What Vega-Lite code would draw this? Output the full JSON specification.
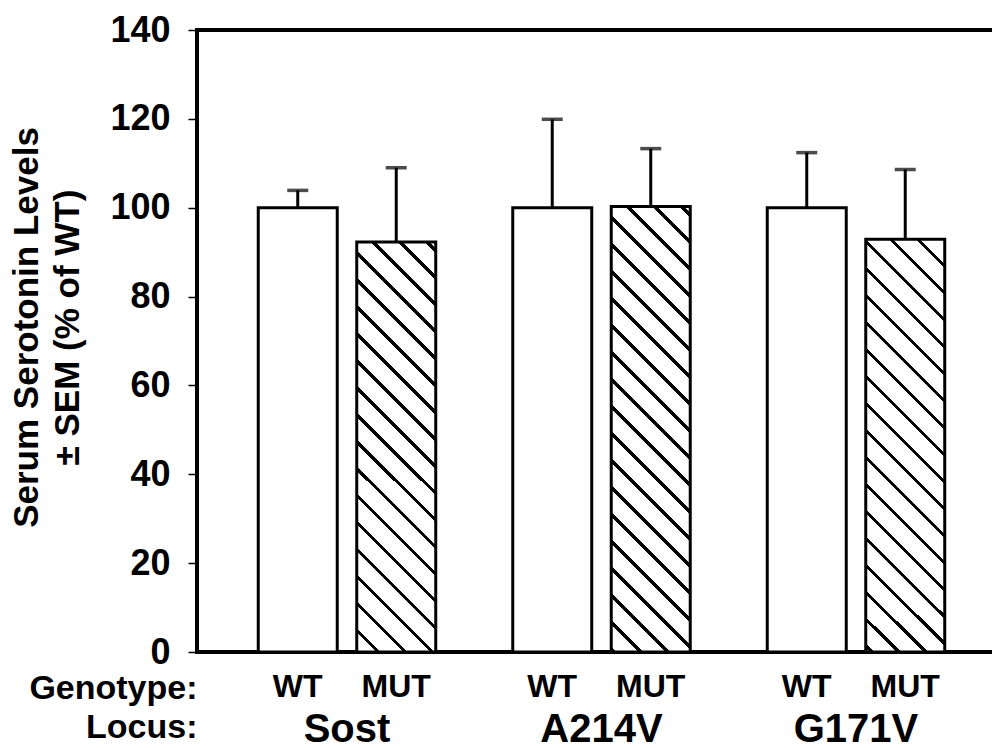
{
  "$schema": "https://vega.github.io/schema/vega-lite/v6.json",
  "width": 800,
  "height": 622,
  "autosize": {"type": "none"},
  "padding": {"left": 197, "top": 30, "right": 0, "bottom": 96},
  "background": "white",
  "config": {"font": "Liberation Sans", "view": {"stroke": "black", "strokeWidth": 4}},
  "data": {"values": [
    {"locus": "Sost", "genotype": "WT", "value": 100, "upper": 103.9},
    {"locus": "Sost", "genotype": "MUT", "value": 92.3, "upper": 109.0},
    {"locus": "A214V", "genotype": "WT", "value": 100, "upper": 119.9},
    {"locus": "A214V", "genotype": "MUT", "value": 100.3, "upper": 113.3},
    {"locus": "G171V", "genotype": "WT", "value": 100, "upper": 112.4},
    {"locus": "G171V", "genotype": "MUT", "value": 92.9, "upper": 108.6}
  ]},
  "encoding": {
    "x": {
      "field": "locus", "type": "nominal", "sort": ["Sost", "A214V", "G171V"],
      "scale": {"paddingInner": 0.3026, "paddingOuter": 0.223, "align": 0.5396},
      "axis": {
        "orient": "bottom", "title": ["Genotype:", "Locus:"], "labelAngle": 0,
        "labelFontSize": 40, "labelFontWeight": "bold", "labelColor": "black",
        "labelBaseline": "alphabetic", "labelPadding": 89, "ticks": false, "tickSize": 0,
        "domain": false, "grid": false,
        "titleFontSize": 34, "titleFontWeight": "bold", "titleColor": "black",
        "titleAlign": "right", "titleX": 0, "titleY": 46, "titleBaseline": "alphabetic", "titleLineHeight": 39
      }
    },
    "xOffset": {"field": "genotype", "type": "nominal", "sort": ["WT", "MUT"], "scale": {"paddingInner": 0.198, "paddingOuter": 0}},
    "y": {
      "field": "value", "type": "quantitative",
      "scale": {"domain": [0, 140], "nice": false},
      "axis": {
        "values": [0, 20, 40, 60, 80, 100, 120, 140],
        "title": ["Serum Serotonin Levels", "± SEM (% of WT)"],
        "titleFontSize": 35, "titleFontWeight": "bold", "titleColor": "black",
        "titleX": -171, "titleY": 297, "titleAngle": -90, "titleAlign": "center", "titleBaseline": "middle", "titleLineHeight": 41,
        "labelFontSize": 36, "labelFontWeight": "bold", "labelColor": "black", "labelPadding": 18,
        "labelFlush": false, "labelOverlap": false,
        "tickSize": 9, "tickWidth": 1.5, "tickColor": "black", "domain": false, "grid": false
      }
    }
  },
  "layer": [
    {
      "transform": [{"filter": "datum.genotype == 'WT'"}],
      "mark": {"type": "bar", "fill": "white", "stroke": "black", "strokeWidth": 3}
    },
    {
      "transform": [{"filter": "datum.genotype == 'MUT' && datum.locus == 'Sost'"}],
      "mark": {"type": "bar", "stroke": "black", "strokeWidth": 3,
        "fill": {"gradient": "linear", "x1": 0.1038, "y1": 1, "x2": 0.3479, "y2": -0.2685, "stops": [
          {"offset": 0, "color": "white"},
          {"offset": 0.0208, "color": "white"}, {"offset": 0.0208, "color": "black"}, {"offset": 0.0292, "color": "black"}, {"offset": 0.0292, "color": "white"},
          {"offset": 0.0708, "color": "white"}, {"offset": 0.0708, "color": "black"}, {"offset": 0.0792, "color": "black"}, {"offset": 0.0792, "color": "white"},
          {"offset": 0.1208, "color": "white"}, {"offset": 0.1208, "color": "black"}, {"offset": 0.1292, "color": "black"}, {"offset": 0.1292, "color": "white"},
          {"offset": 0.1708, "color": "white"}, {"offset": 0.1708, "color": "black"}, {"offset": 0.1792, "color": "black"}, {"offset": 0.1792, "color": "white"},
          {"offset": 0.2208, "color": "white"}, {"offset": 0.2208, "color": "black"}, {"offset": 0.2292, "color": "black"}, {"offset": 0.2292, "color": "white"},
          {"offset": 0.2708, "color": "white"}, {"offset": 0.2708, "color": "black"}, {"offset": 0.2792, "color": "black"}, {"offset": 0.2792, "color": "white"},
          {"offset": 0.3208, "color": "white"}, {"offset": 0.3208, "color": "black"}, {"offset": 0.3292, "color": "black"}, {"offset": 0.3292, "color": "white"},
          {"offset": 0.3708, "color": "white"}, {"offset": 0.3708, "color": "black"}, {"offset": 0.3792, "color": "black"}, {"offset": 0.3792, "color": "white"},
          {"offset": 0.4208, "color": "white"}, {"offset": 0.4208, "color": "black"}, {"offset": 0.4292, "color": "black"}, {"offset": 0.4292, "color": "white"},
          {"offset": 0.4708, "color": "white"}, {"offset": 0.4708, "color": "black"}, {"offset": 0.4792, "color": "black"}, {"offset": 0.4792, "color": "white"},
          {"offset": 0.5208, "color": "white"}, {"offset": 0.5208, "color": "black"}, {"offset": 0.5292, "color": "black"}, {"offset": 0.5292, "color": "white"},
          {"offset": 0.5708, "color": "white"}, {"offset": 0.5708, "color": "black"}, {"offset": 0.5792, "color": "black"}, {"offset": 0.5792, "color": "white"},
          {"offset": 0.6208, "color": "white"}, {"offset": 0.6208, "color": "black"}, {"offset": 0.6292, "color": "black"}, {"offset": 0.6292, "color": "white"},
          {"offset": 0.6708, "color": "white"}, {"offset": 0.6708, "color": "black"}, {"offset": 0.6792, "color": "black"}, {"offset": 0.6792, "color": "white"},
          {"offset": 0.7208, "color": "white"}, {"offset": 0.7208, "color": "black"}, {"offset": 0.7292, "color": "black"}, {"offset": 0.7292, "color": "white"},
          {"offset": 0.7708, "color": "white"}, {"offset": 0.7708, "color": "black"}, {"offset": 0.7792, "color": "black"}, {"offset": 0.7792, "color": "white"},
          {"offset": 0.8208, "color": "white"}, {"offset": 0.8208, "color": "black"}, {"offset": 0.8292, "color": "black"}, {"offset": 0.8292, "color": "white"},
          {"offset": 0.8708, "color": "white"}, {"offset": 0.8708, "color": "black"}, {"offset": 0.8792, "color": "black"}, {"offset": 0.8792, "color": "white"},
          {"offset": 0.9208, "color": "white"}, {"offset": 0.9208, "color": "black"}, {"offset": 0.9292, "color": "black"}, {"offset": 0.9292, "color": "white"},
          {"offset": 0.9708, "color": "white"}, {"offset": 0.9708, "color": "black"}, {"offset": 0.9792, "color": "black"}, {"offset": 0.9792, "color": "white"},
          {"offset": 1, "color": "white"}
        ]}}
    },
    {
      "transform": [{"filter": "datum.genotype == 'MUT' && datum.locus == 'A214V'"}],
      "mark": {"type": "bar", "stroke": "black", "strokeWidth": 3,
        "fill": {"gradient": "linear", "x1": -0.1329, "y1": 1, "x2": 0.0750, "y2": -0.1739, "stops": [
          {"offset": 0, "color": "white"},
          {"offset": 0.0208, "color": "white"}, {"offset": 0.0208, "color": "black"}, {"offset": 0.0292, "color": "black"}, {"offset": 0.0292, "color": "white"},
          {"offset": 0.0708, "color": "white"}, {"offset": 0.0708, "color": "black"}, {"offset": 0.0792, "color": "black"}, {"offset": 0.0792, "color": "white"},
          {"offset": 0.1208, "color": "white"}, {"offset": 0.1208, "color": "black"}, {"offset": 0.1292, "color": "black"}, {"offset": 0.1292, "color": "white"},
          {"offset": 0.1708, "color": "white"}, {"offset": 0.1708, "color": "black"}, {"offset": 0.1792, "color": "black"}, {"offset": 0.1792, "color": "white"},
          {"offset": 0.2208, "color": "white"}, {"offset": 0.2208, "color": "black"}, {"offset": 0.2292, "color": "black"}, {"offset": 0.2292, "color": "white"},
          {"offset": 0.2708, "color": "white"}, {"offset": 0.2708, "color": "black"}, {"offset": 0.2792, "color": "black"}, {"offset": 0.2792, "color": "white"},
          {"offset": 0.3208, "color": "white"}, {"offset": 0.3208, "color": "black"}, {"offset": 0.3292, "color": "black"}, {"offset": 0.3292, "color": "white"},
          {"offset": 0.3708, "color": "white"}, {"offset": 0.3708, "color": "black"}, {"offset": 0.3792, "color": "black"}, {"offset": 0.3792, "color": "white"},
          {"offset": 0.4208, "color": "white"}, {"offset": 0.4208, "color": "black"}, {"offset": 0.4292, "color": "black"}, {"offset": 0.4292, "color": "white"},
          {"offset": 0.4708, "color": "white"}, {"offset": 0.4708, "color": "black"}, {"offset": 0.4792, "color": "black"}, {"offset": 0.4792, "color": "white"},
          {"offset": 0.5208, "color": "white"}, {"offset": 0.5208, "color": "black"}, {"offset": 0.5292, "color": "black"}, {"offset": 0.5292, "color": "white"},
          {"offset": 0.5708, "color": "white"}, {"offset": 0.5708, "color": "black"}, {"offset": 0.5792, "color": "black"}, {"offset": 0.5792, "color": "white"},
          {"offset": 0.6208, "color": "white"}, {"offset": 0.6208, "color": "black"}, {"offset": 0.6292, "color": "black"}, {"offset": 0.6292, "color": "white"},
          {"offset": 0.6708, "color": "white"}, {"offset": 0.6708, "color": "black"}, {"offset": 0.6792, "color": "black"}, {"offset": 0.6792, "color": "white"},
          {"offset": 0.7208, "color": "white"}, {"offset": 0.7208, "color": "black"}, {"offset": 0.7292, "color": "black"}, {"offset": 0.7292, "color": "white"},
          {"offset": 0.7708, "color": "white"}, {"offset": 0.7708, "color": "black"}, {"offset": 0.7792, "color": "black"}, {"offset": 0.7792, "color": "white"},
          {"offset": 0.8208, "color": "white"}, {"offset": 0.8208, "color": "black"}, {"offset": 0.8292, "color": "black"}, {"offset": 0.8292, "color": "white"},
          {"offset": 0.8708, "color": "white"}, {"offset": 0.8708, "color": "black"}, {"offset": 0.8792, "color": "black"}, {"offset": 0.8792, "color": "white"},
          {"offset": 0.9208, "color": "white"}, {"offset": 0.9208, "color": "black"}, {"offset": 0.9292, "color": "black"}, {"offset": 0.9292, "color": "white"},
          {"offset": 0.9708, "color": "white"}, {"offset": 0.9708, "color": "black"}, {"offset": 0.9792, "color": "black"}, {"offset": 0.9792, "color": "white"},
          {"offset": 1, "color": "white"}
        ]}}
    },
    {
      "transform": [{"filter": "datum.genotype == 'MUT' && datum.locus == 'G171V'"}],
      "mark": {"type": "bar", "stroke": "black", "strokeWidth": 3,
        "fill": {"gradient": "linear", "x1": -0.0949, "y1": 1, "x2": 0.1462, "y2": -0.2611, "stops": [
          {"offset": 0, "color": "white"},
          {"offset": 0.0208, "color": "white"}, {"offset": 0.0208, "color": "black"}, {"offset": 0.0292, "color": "black"}, {"offset": 0.0292, "color": "white"},
          {"offset": 0.0708, "color": "white"}, {"offset": 0.0708, "color": "black"}, {"offset": 0.0792, "color": "black"}, {"offset": 0.0792, "color": "white"},
          {"offset": 0.1208, "color": "white"}, {"offset": 0.1208, "color": "black"}, {"offset": 0.1292, "color": "black"}, {"offset": 0.1292, "color": "white"},
          {"offset": 0.1708, "color": "white"}, {"offset": 0.1708, "color": "black"}, {"offset": 0.1792, "color": "black"}, {"offset": 0.1792, "color": "white"},
          {"offset": 0.2208, "color": "white"}, {"offset": 0.2208, "color": "black"}, {"offset": 0.2292, "color": "black"}, {"offset": 0.2292, "color": "white"},
          {"offset": 0.2708, "color": "white"}, {"offset": 0.2708, "color": "black"}, {"offset": 0.2792, "color": "black"}, {"offset": 0.2792, "color": "white"},
          {"offset": 0.3208, "color": "white"}, {"offset": 0.3208, "color": "black"}, {"offset": 0.3292, "color": "black"}, {"offset": 0.3292, "color": "white"},
          {"offset": 0.3708, "color": "white"}, {"offset": 0.3708, "color": "black"}, {"offset": 0.3792, "color": "black"}, {"offset": 0.3792, "color": "white"},
          {"offset": 0.4208, "color": "white"}, {"offset": 0.4208, "color": "black"}, {"offset": 0.4292, "color": "black"}, {"offset": 0.4292, "color": "white"},
          {"offset": 0.4708, "color": "white"}, {"offset": 0.4708, "color": "black"}, {"offset": 0.4792, "color": "black"}, {"offset": 0.4792, "color": "white"},
          {"offset": 0.5208, "color": "white"}, {"offset": 0.5208, "color": "black"}, {"offset": 0.5292, "color": "black"}, {"offset": 0.5292, "color": "white"},
          {"offset": 0.5708, "color": "white"}, {"offset": 0.5708, "color": "black"}, {"offset": 0.5792, "color": "black"}, {"offset": 0.5792, "color": "white"},
          {"offset": 0.6208, "color": "white"}, {"offset": 0.6208, "color": "black"}, {"offset": 0.6292, "color": "black"}, {"offset": 0.6292, "color": "white"},
          {"offset": 0.6708, "color": "white"}, {"offset": 0.6708, "color": "black"}, {"offset": 0.6792, "color": "black"}, {"offset": 0.6792, "color": "white"},
          {"offset": 0.7208, "color": "white"}, {"offset": 0.7208, "color": "black"}, {"offset": 0.7292, "color": "black"}, {"offset": 0.7292, "color": "white"},
          {"offset": 0.7708, "color": "white"}, {"offset": 0.7708, "color": "black"}, {"offset": 0.7792, "color": "black"}, {"offset": 0.7792, "color": "white"},
          {"offset": 0.8208, "color": "white"}, {"offset": 0.8208, "color": "black"}, {"offset": 0.8292, "color": "black"}, {"offset": 0.8292, "color": "white"},
          {"offset": 0.8708, "color": "white"}, {"offset": 0.8708, "color": "black"}, {"offset": 0.8792, "color": "black"}, {"offset": 0.8792, "color": "white"},
          {"offset": 0.9208, "color": "white"}, {"offset": 0.9208, "color": "black"}, {"offset": 0.9292, "color": "black"}, {"offset": 0.9292, "color": "white"},
          {"offset": 0.9708, "color": "white"}, {"offset": 0.9708, "color": "black"}, {"offset": 0.9792, "color": "black"}, {"offset": 0.9792, "color": "white"},
          {"offset": 1, "color": "white"}
        ]}}
    },
    {
      "mark": {"type": "rule", "strokeWidth": 3, "color": "black"},
      "encoding": {"y2": {"field": "upper"}}
    },
    {
      "mark": {"type": "tick", "thickness": 3.5, "size": 21, "color": "black", "orient": "horizontal"},
      "encoding": {"y": {"field": "upper", "type": "quantitative", "title": ["Serum Serotonin Levels", "± SEM (% of WT)"]}}
    },
    {
      "mark": {"type": "text", "fontSize": 32, "fontWeight": "bold", "baseline": "alphabetic", "dy": 45, "color": "black"},
      "encoding": {"y": {"datum": 0}, "text": {"field": "genotype"}}
    }
  ]
}
